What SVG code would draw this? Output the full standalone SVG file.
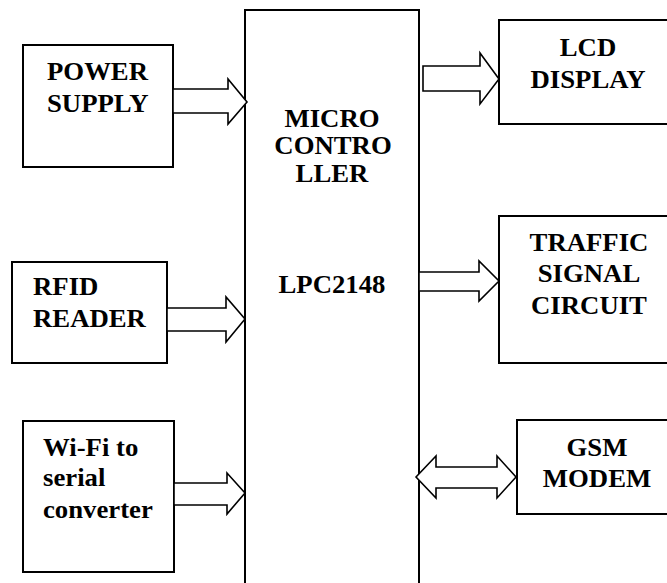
<svg xmlns="http://www.w3.org/2000/svg" width="667" height="583" viewBox="0 0 667 583">
<style>
.box{fill:#fff;stroke:#000;stroke-width:2}
.arr{fill:#fff;stroke:#000;stroke-width:1.6;stroke-linejoin:miter}
text{font-family:"Liberation Serif","Times New Roman",serif;font-weight:bold;font-size:25px;fill:#000}
.c{text-anchor:middle}
</style>
<rect width="667" height="583" fill="#fff"/>
<g id="mcu">
<rect class="box" x="245" y="10" width="174" height="590"/>
<text class="c" transform="translate(332,127) scale(1.07,1)">MICRO</text>
<text class="c" transform="translate(333,154) scale(1.07,1)">CONTRO</text>
<text class="c" transform="translate(332,182) scale(1.07,1)">LLER</text>
<text class="c" transform="translate(332,293) scale(1.07,1)">LPC2148</text>
</g>
<g id="power">
<rect class="box" x="23" y="45" width="150" height="122"/>
<text transform="translate(47,80) scale(1.07,1)">POWER</text>
<text transform="translate(47,112) scale(1.07,1)">SUPPLY</text>
</g>
<g id="rfid">
<rect class="box" x="12" y="262" width="155" height="101"/>
<text transform="translate(33,295) scale(1.07,1)">RFID</text>
<text transform="translate(33,327) scale(1.07,1)">READER</text>
</g>
<g id="wifi">
<rect class="box" x="23" y="421" width="151" height="151"/>
<text transform="translate(43,456) scale(1.07,1)">Wi-Fi to</text>
<text transform="translate(43,486) scale(1.07,1)">serial</text>
<text transform="translate(43,518) scale(1.07,1)">converter</text>
</g>
<g id="lcd">
<rect class="box" x="499" y="20" width="170" height="104"/>
<text class="c" transform="translate(588,56) scale(1.07,1)">LCD</text>
<text class="c" transform="translate(588,88) scale(1.07,1)">DISPLAY</text>
</g>
<g id="traffic">
<rect class="box" x="499" y="216" width="170" height="147"/>
<text class="c" transform="translate(589,251) scale(1.07,1)">TRAFFIC</text>
<text class="c" transform="translate(589,282) scale(1.07,1)">SIGNAL</text>
<text class="c" transform="translate(589,314) scale(1.07,1)">CIRCUIT</text>
</g>
<g id="gsm">
<rect class="box" x="517" y="420" width="152" height="94"/>
<text class="c" transform="translate(597,456) scale(1.07,1)">GSM</text>
<text class="c" transform="translate(597,487) scale(1.07,1)">MODEM</text>
</g>
<g id="connectors">
<path class="arr" d="M173,89 H228 V79 L247,102 L228,124 V113 H173 Z"/>
<path class="arr" d="M167,308 H226 V297 L245,319 L226,342 V331 H167 Z"/>
<path class="arr" d="M174,483 H227 V473 L245,493 L227,514 V505 H174 Z"/>
<path class="arr" d="M423,66 H480 V53 L499,79 L480,104 V91 H423 Z"/>
<path class="arr" d="M419,272 H479 V261 L499,281 L479,301 V291 H419 Z"/>
<path class="arr" d="M416,477 L436,456 V467 H497 V456 L516,477 L497,498 V488 H436 V498 Z"/>
</g>
</svg>
